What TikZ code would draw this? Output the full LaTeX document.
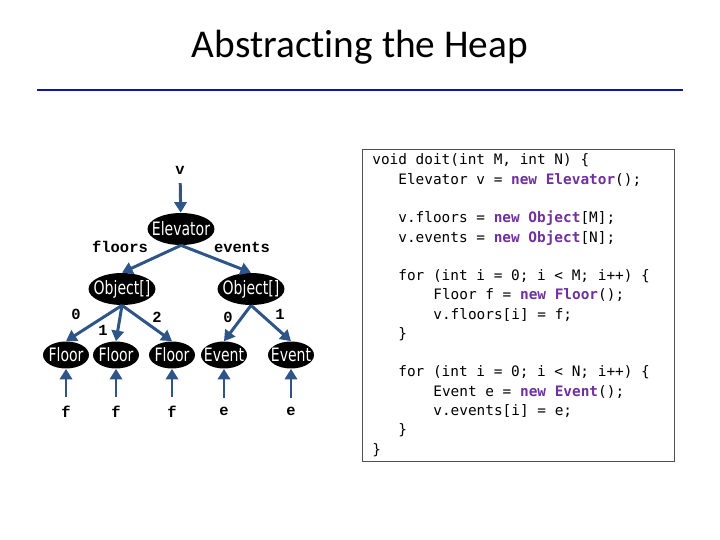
\documentclass[tikz,border=0pt]{standalone}
\usepackage{fontspec}
\setmainfont[Ligatures=NoCommon]{Carlito}
\newfontfamily\codefont{DejaVu Sans Mono}
\newfontfamily\lblfont{Liberation Mono}
\newfontfamily\objfont[FakeStretch=0.76]{DejaVu Sans}
\usetikzlibrary{shapes.geometric,arrows.meta}

\definecolor{ptrblue}{RGB}{46,84,136}
\definecolor{ruleblue}{RGB}{12,22,165}
\definecolor{kwpurple}{RGB}{112,48,160}
\definecolor{boxgray}{RGB}{80,80,80}

\newcommand{\kw}[1]{\textcolor{kwpurple}{\bfseries #1}}
\newcommand{\objtext}[1]{\makebox[0pt]{#1}}

\tikzset{
  heapobj/.style={ellipse, fill=black, text=white, inner sep=0pt,
    font=\objfont\fontsize{10.5}{12}\selectfont},
  bigobj/.style={heapobj, minimum width=1.34cm, minimum height=0.64cm},
  smallobj/.style={heapobj, minimum width=0.92cm, minimum height=0.54cm},
  ptr/.style={draw=ptrblue, line width=1.7pt, -{Triangle[length=6pt,width=7pt]}},
  lbl/.style={font=\lblfont\bfseries\fontsize{8.8}{10}\selectfont, inner sep=5pt},
  idx/.style={font=\lblfont\bfseries\fontsize{8.8}{10}\selectfont, inner sep=0pt},
  codeline/.style={anchor=base west, inner sep=0pt,
    font=\codefont\fontsize{8.2}{10}\selectfont},
}

\begin{document}
\begin{tikzpicture}[x=0.02cm, y=-0.02cm]
\useasboundingbox (0,0) rectangle (720,540);

% ===== Title =====
\node (title) [anchor=base, font=\fontsize{22.4}{26}\selectfont] at (360,58) {Abstracting the Heap};
\draw[ruleblue, line width=1.7pt] (37,90) -- (683,90);

% ===== Heap =====
\node (v) [lbl] at (180,170) {v};
\node (elev) [bigobj] at (181,229) {\objtext{Elevator}};
\node (floorsarr) [bigobj] at (122,289) {\objtext{Object[]}};
\node (eventsarr) [bigobj] at (251,289) {\objtext{Object[]}};
\node (floorslbl) [idx] at (120,247) {floors};
\node (eventslbl) [idx] at (242,247) {events};

\draw[ptr] (v) -- (elev);
\draw[ptr] (elev.south) -- (floorsarr.north);
\draw[ptr] (elev.south) -- (eventsarr.north);

% floors
\foreach \i/\x in {1/66,2/116,3/172} {
    \node (floor\i) [smallobj] at (\x,355) {\objtext{Floor}};
    \node (f\i) [lbl] at (\x,412) {f};
    \draw[ptr] (f\i) -- (floor\i);
    \draw[ptr] (floorsarr.south) -- (floor\i.north);
}
% events
\foreach \i/\x in {1/224,2/291} {
    \node (event\i) [smallobj] at (\x,355) {\objtext{Event}};
    \node (e\i) [lbl] at (\x,411) {e};
    \draw[ptr] (e\i) -- (event\i);
    \draw[ptr] (eventsarr.south) -- (event\i.north);
}

% ===== Indices =====
\node (fidx0) [idx] at (76,314) {0};
\node (fidx1) [idx] at (103,330) {1};
\node (fidx2) [idx] at (157,317) {2};
\node (eidx0) [idx] at (228,317) {0};
\node (eidx1) [idx] at (280,314) {1};

% ===== Code =====
\node (codebox) [draw=boxgray, line width=0.6pt, anchor=north west, inner sep=0pt,
    minimum width=6.24cm, minimum height=6.24cm] at (362,149) {};
\node (c1)  [codeline] at (372,165)   {void doit(int M, int N) \{};
\node (c2)  [codeline] at (398,184.3) {Elevator v = \kw{new Elevator}();};
\node (c4)  [codeline] at (398,222.8) {v.floors = \kw{new Object}[M];};
\node (c5)  [codeline] at (398,242.1) {v.events = \kw{new Object}[N];};
\node (c7)  [codeline] at (398,280.6) {for (int i = 0; i < M; i++) \{};
\node (c8)  [codeline] at (433,299.9) {Floor f = \kw{new Floor}();};
\node (c9)  [codeline] at (433,319.2) {v.floors[i] = f;};
\node (c10) [codeline] at (398,338.4) {\}};
\node (c12) [codeline] at (398,377.0) {for (int i = 0; i < N; i++) \{};
\node (c13) [codeline] at (433,396.2) {Event e = \kw{new Event}();};
\node (c14) [codeline] at (433,415.5) {v.events[i] = e;};
\node (c15) [codeline] at (398,434.8) {\}};
\node (c16) [codeline] at (372,454)   {\}};

\end{tikzpicture}
\end{document}
